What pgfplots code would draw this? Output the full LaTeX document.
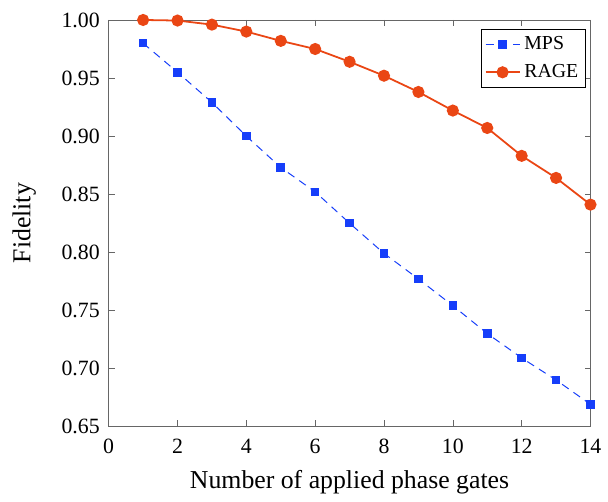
\documentclass[border=0pt]{standalone}
\usepackage{pgfplots}
\pgfplotsset{compat=1.18}
\usepackage{fontspec}
\setmainfont{Liberation Serif}
\definecolor{mpsblue}{RGB}{22,62,250}
\definecolor{ragered}{RGB}{234,70,20}
\begin{document}
\begin{tikzpicture}
\begin{axis}[
  scale only axis,
  width=243pt, height=205pt,
  xmin=0, xmax=14, ymin=0.65, ymax=1.0,
  xtick={0,2,4,6,8,10,12,14},
  xticklabels={0,2,4,6,8,10,12,14},
  ytick={0.65,0.70,0.75,0.80,0.85,0.90,0.95,1.00},
  yticklabels={0.65,0.70,0.75,0.80,0.85,0.90,0.95,1.00},
  tick align=inside,
  tick pos=both,
  major tick length=3pt,
  axis line style={black!60},
  tick style={black!60},
  ticklabel style={font=\fontsize{11}{13}\selectfont},
  xticklabel style={yshift=-3pt},
  yticklabel style={xshift=-1pt},
  xlabel={Number of applied phase gates},
  ylabel={Fidelity},
  label style={font=\fontsize{13}{15}\selectfont},
  xlabel shift=1.5pt,
  ylabel shift=6pt,
  legend style={font=\fontsize{10}{12}\selectfont, draw=black, inner sep=1.5pt, row sep=2pt,
    at={(0.99,0.978)}, anchor=north east},
  legend cell align=left,
]
\addplot[color=mpsblue, line width=0.5pt, dash pattern=on 4pt off 3pt, mark=square*, mark size=1.9pt, mark options={solid}]
coordinates {
(1,0.980) (2,0.955) (3,0.929) (4,0.900) (5,0.873) (6,0.852) (7,0.825)
(8,0.799) (9,0.777) (10,0.754) (11,0.730) (12,0.709) (13,0.690) (14,0.669)
};
\addlegendentry{MPS}
\addplot[color=ragered, line width=0.9pt, mark=*, mark size=2.6pt]
coordinates {
(1,1.000) (2,0.9995) (3,0.996) (4,0.990) (5,0.982) (6,0.975) (7,0.964)
(8,0.952) (9,0.938) (10,0.922) (11,0.907) (12,0.883) (13,0.864) (14,0.841)
};
\addlegendentry{RAGE}
\end{axis}
\path ([yshift=3pt]current bounding box.north);
\path ([xshift=-3pt]current bounding box.west);
\end{tikzpicture}
\end{document}
